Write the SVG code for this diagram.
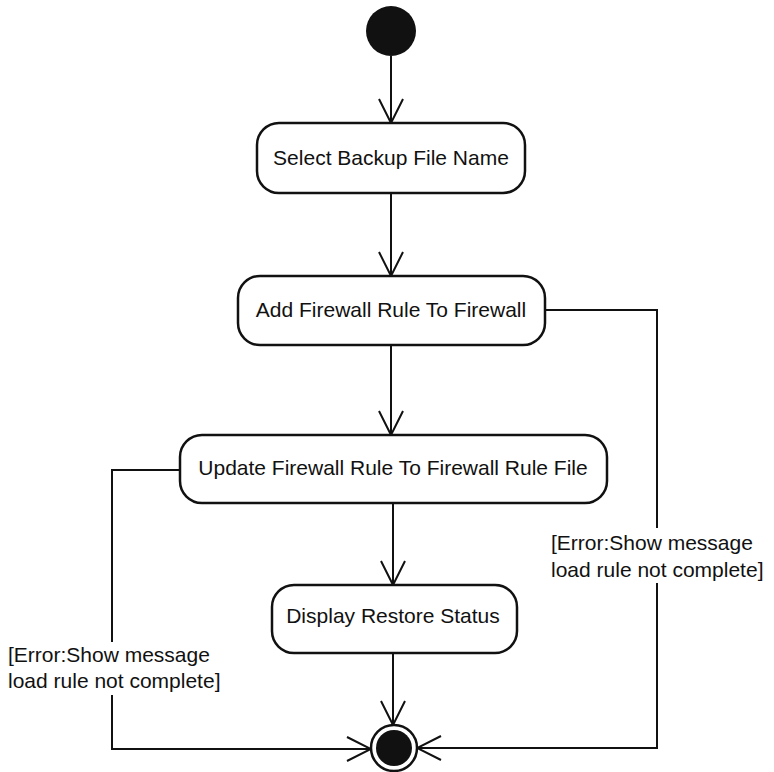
<svg xmlns="http://www.w3.org/2000/svg" width="774" height="772" viewBox="0 0 774 772">
  <style>
    .act { fill: #ffffff; stroke: #111111; stroke-width: 2.5; }
    .lbl { font-family: "Liberation Sans", Arial, sans-serif; font-size: 21px; fill: #111111; }
    .edge { fill: none; stroke: #111111; stroke-width: 2; }
  </style>
  <defs>
    <marker id="open-arrow" viewBox="0 0 26 26" refX="25" refY="13" markerWidth="26" markerHeight="26" markerUnits="userSpaceOnUse" orient="auto">
      <path d="M1,1 L25,13 L1,25" fill="none" stroke="#111111" stroke-width="2"/>
    </marker>
  </defs>
  <rect width="774" height="772" fill="#ffffff"/>

  <!-- initial state -->
  <g id="start">
    <circle cx="391" cy="31" r="25" fill="#111111"/>
  </g>

  <g id="select-backup">
    <rect class="act" x="257" y="123" width="268" height="70" rx="22" ry="22"/>
    <text class="lbl" x="391" y="165" text-anchor="middle">Select Backup File Name</text>
  </g>

  <g id="add-rule">
    <rect class="act" x="238" y="276" width="307" height="69" rx="22" ry="22"/>
    <text class="lbl" x="391" y="317" text-anchor="middle">Add Firewall Rule To Firewall</text>
  </g>

  <g id="update-rule-file">
    <rect class="act" x="180" y="435" width="427" height="68" rx="22" ry="22"/>
    <text class="lbl" x="393" y="475" text-anchor="middle">Update Firewall Rule To Firewall Rule File</text>
  </g>

  <g id="display-status">
    <rect class="act" x="272" y="585" width="245" height="68" rx="22" ry="22"/>
    <text class="lbl" x="393" y="623" text-anchor="middle">Display Restore Status</text>
  </g>

  <!-- final state -->
  <g id="end">
    <circle cx="394" cy="748" r="23" fill="#ffffff" stroke="#111111" stroke-width="2.5"/>
    <circle cx="394" cy="748" r="18" fill="#111111"/>
  </g>

  <g id="connectors">
    <path class="edge" d="M391,56 V123" marker-end="url(#open-arrow)"/>
    <path class="edge" d="M391,193 V276" marker-end="url(#open-arrow)"/>
    <path class="edge" d="M391,345 V435" marker-end="url(#open-arrow)"/>
    <path class="edge" d="M393,503 V585" marker-end="url(#open-arrow)"/>
    <path class="edge" d="M393,653 V725" marker-end="url(#open-arrow)"/>

    <!-- error branch from Add Firewall Rule -->
    <path class="edge" d="M545,310 H657 V528"/>
    <path class="edge" d="M657,583 V748 H417" marker-end="url(#open-arrow)"/>
    <text class="lbl" x="551" y="550">[Error:Show message</text>
    <text class="lbl" x="551" y="577">load rule not complete]</text>

    <!-- error branch from Update Firewall Rule File -->
    <path class="edge" d="M180,470 H112 V642"/>
    <path class="edge" d="M112,695 V749 H371" marker-end="url(#open-arrow)"/>
    <text class="lbl" x="8" y="662">[Error:Show message</text>
    <text class="lbl" x="8" y="688">load rule not complete]</text>
  </g>
</svg>
